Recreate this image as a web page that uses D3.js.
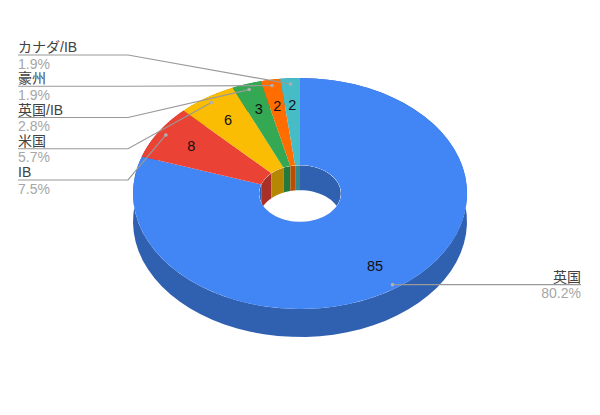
<!DOCTYPE html>
<html>
<head>
<meta charset="utf-8">
<script src="https://cdnjs.cloudflare.com/ajax/libs/d3/7.8.5/d3.min.js"></script>
<style>
html, body { margin: 0; padding: 0; background: #fff; }
svg { display: block; }
text { font-family: "Liberation Sans", "Noto Sans CJK JP", sans-serif; }
</style>
</head>
<body>
<svg width="600" height="415"></svg>
<script>
var categories = ["英国", "IB", "米国", "英国/IB", "豪州", "カナダ/IB"];
var values = [85, 8, 6, 3, 2, 2];
var percents = ["80.2%", "7.5%", "5.7%", "2.8%", "1.9%", "1.9%"];
var colors = ["#4285f4", "#ea4335", "#fbbc04", "#34a853", "#ff6d01", "#46bdc6"];

var svg = d3.select("svg"),
    cx = 300, cy = 193.5,
    rx = 167, ry = 115.5,
    hole = 0.245,
    depth = 28,
    holeDepth = 25;

var pie = d3.pie().sort(null).value(function(d) { return d; });
var slices = pie(values);

var arc = d3.arc().innerRadius(hole).outerRadius(1);

function px(a, r) { return cx + rx * r * Math.sin(a); }
function py(a, r) { return cy - ry * r * Math.cos(a); }
function mid(d) { return (d.startAngle + d.endAngle) / 2; }

// band swept down from an elliptical arc, used for outer and inner walls
function wall(d, r, h) {
    var n = 60, top = [], i;
    for (i = 0; i <= n; i++) {
        var a = d.startAngle + (d.endAngle - d.startAngle) * i / n;
        top.push([px(a, r), py(a, r)]);
    }
    var bottom = top.map(function(p) { return [p[0], p[1] + h]; }).reverse();
    return d3.line()(top.concat(bottom)) + "Z";
}

function dark(c) {
    var k = d3.rgb(c);
    return d3.rgb(k.r * 0.72, k.g * 0.72, k.b * 0.72).formatHex();
}

svg.append("defs").append("clipPath").attr("id", "holeClip")
    .append("ellipse")
    .attr("cx", cx).attr("cy", cy)
    .attr("rx", rx * hole).attr("ry", ry * hole);

// outer wall
svg.append("g").selectAll("path").data(slices).enter().append("path")
    .attr("d", function(d) { return wall(d, 1, depth); })
    .attr("fill", function(d, i) { return dark(colors[i]); });

// top face
svg.append("g")
    .attr("transform", "translate(" + cx + "," + cy + ") scale(" + rx + "," + ry + ")")
    .selectAll("path").data(slices).enter().append("path")
    .attr("d", arc)
    .attr("fill", function(d, i) { return colors[i]; });

// hole, white first and then the far inner wall
svg.append("ellipse")
    .attr("cx", cx).attr("cy", cy)
    .attr("rx", rx * hole).attr("ry", ry * hole)
    .attr("fill", "#fff");

svg.append("g").attr("clip-path", "url(#holeClip)")
    .selectAll("path").data(slices).enter().append("path")
    .attr("d", function(d) { return wall(d, hole, holeDepth); })
    .attr("fill", function(d, i) { return dark(colors[i]); });

// value labels
svg.append("g").selectAll("text").data(slices).enter().append("text")
    .attr("x", function(d) { return px(mid(d), 0.77); })
    .attr("y", function(d) { return py(mid(d), 0.77); })
    .attr("dy", "0.33em")
    .attr("text-anchor", "middle")
    .attr("font-size", 14.5)
    .attr("fill", "#111")
    .text(function(d) { return d.data; });

// leader rows on the left, one per small slice
var rowY = d3.scalePoint().domain(categories.slice(1)).range([180, 55]);
var leftX = 18, elbowX = 128, rightX = 581;

var rows = slices.map(function(d, i) {
    var dx = px(mid(d), 0.95), dy = py(mid(d), 0.95);
    if (i == 0) {
        return { name: categories[i], pct: percents[i], anchor: "end", tx: rightX, y: dy + 2,
                 pts: [[dx, dy + 2], [rightX, dy + 2]], dot: [dx, dy + 2] };
    }
    var y = rowY(categories[i]);
    return { name: categories[i], pct: percents[i], anchor: "start", tx: leftX, y: y,
             pts: [[leftX, y], [elbowX, y], [dx, dy]], dot: [dx, dy] };
});

var labels = svg.append("g").selectAll("g").data(rows).enter().append("g");

labels.append("path")
    .attr("d", function(d) { return d3.line()(d.pts); })
    .attr("fill", "none")
    .attr("stroke", "#999")
    .attr("stroke-width", 1.2);

labels.append("circle")
    .attr("cx", function(d) { return d.dot[0]; })
    .attr("cy", function(d) { return d.dot[1]; })
    .attr("r", 1.8)
    .attr("fill", "#b0b0b0");

labels.append("text")
    .attr("x", function(d) { return d.tx; })
    .attr("y", function(d) { return d.y - 3; })
    .attr("text-anchor", function(d) { return d.anchor; })
    .attr("font-size", 14)
    .attr("fill", "#424242")
    .text(function(d) { return d.name; });

labels.append("text")
    .attr("x", function(d) { return d.tx; })
    .attr("y", function(d) { return d.y + 13.5; })
    .attr("text-anchor", function(d) { return d.anchor; })
    .attr("font-size", 14)
    .attr("fill", "#a6a6a6")
    .text(function(d) { return d.pct; });
</script>
</body>
</html>
